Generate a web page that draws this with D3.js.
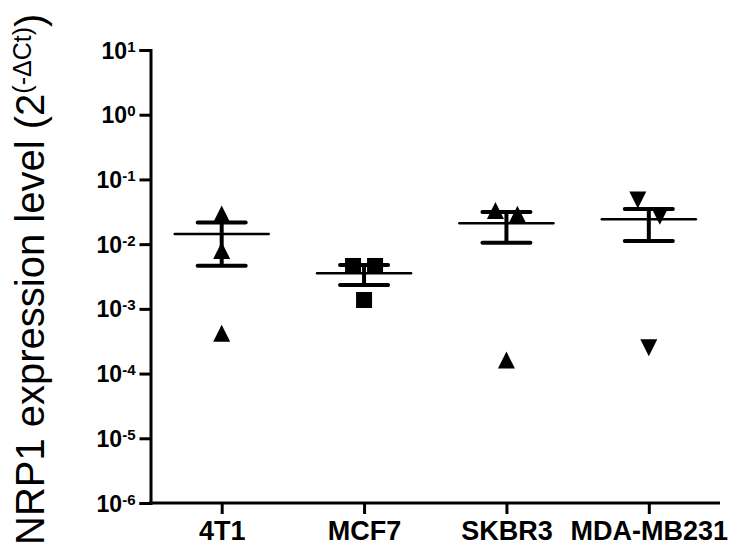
<!DOCTYPE html>
<html>
<head>
<meta charset="utf-8">
<script src="https://cdn.jsdelivr.net/npm/d3@7"></script>
<style>
  body { margin: 0; background: #fff; }
  svg { display: block; }
  text { font-family: "Liberation Sans", Arial, sans-serif; fill: #000; }
</style>
</head>
<body>
<div id="chart"></div>
<script>
// cell lines and their marker shapes
const categories = ["4T1", "MCF7", "SKBR3", "MDA-MB231"];
const shapes = ["up", "square", "up", "down"];

// individual NRP1 expression values (2^-dCt)
const values4T1 = [0.0292, 0.0080, 0.00042];
const valuesMCF7 = [0.0046, 0.0046, 0.00137];
const valuesSKBR3 = [0.033, 0.029, 0.000162];
const valuesMDA = [0.048, 0.027, 0.00025];

// mean and SEM bar ends
const means = [0.0143, 0.00354, 0.0210, 0.0242];
const semLow = [0.00464, 0.00233, 0.0105, 0.0112];
const semHigh = [0.0216, 0.00475, 0.0314, 0.0349];

const yTicks = [-6, -5, -4, -3, -2, -1, 0, 1];

const groups = [values4T1, valuesMCF7, valuesSKBR3, valuesMDA];

const width = 741, height = 546;
const margin = { left: 150.5, right: 21, top: 50, bottom: 43 };

const svg = d3.select("#chart")
  .append("svg")
  .attr("width", width)
  .attr("height", height);

const x = d3.scalePoint()
  .domain(categories)
  .range([margin.left, width - margin.right])
  .padding(0.5);

const y = d3.scaleLog()
  .domain([1e-6, 10])
  .range([height - margin.bottom, margin.top]);

// y axis
const yAxis = svg.append("g")
  .attr("transform", `translate(${margin.left},0)`)
  .call(d3.axisLeft(y)
    .tickValues(yTicks.map(e => Math.pow(10, e)))
    .tickSize(11)
    .tickFormat(""));
yAxis.selectAll("path, line").attr("stroke", "#000").attr("stroke-width", 3);
yAxis.selectAll(".tick").each(function (d) {
  const t = d3.select(this).append("text")
    .attr("x", -15)
    .attr("dy", 8)
    .attr("text-anchor", "end")
    .style("font-size", "23px")
    .style("font-weight", "bold");
  t.append("tspan").text("10");
  t.append("tspan")
    .attr("dy", -7)
    .style("font-size", "15px")
    .text(Math.round(Math.log10(d)));
});

// x axis
const xAxis = svg.append("g")
  .attr("transform", `translate(0,${height - margin.bottom})`)
  .call(d3.axisBottom(x).tickSize(11).tickSizeOuter(0));
xAxis.select(".domain").attr("stroke", "#000").attr("stroke-width", 3)
  .attr("d", `M${margin.left - 1.5},0H${width - margin.right}`);
xAxis.selectAll("line").attr("stroke", "#000").attr("stroke-width", 3);
xAxis.selectAll("text")
  .attr("y", 37)
  .attr("dy", 0)
  .style("font-size", "27px")
  .style("font-weight", "bold")
  .style("fill", "#000");

// y axis title
const title = svg.append("text")
  .attr("transform", "translate(44,545) rotate(-90)")
  .style("font-size", "40px");
title.append("tspan").text("NRP1 expression level (2");
title.append("tspan").attr("dy", -13).style("font-size", "25px").text("(-ΔCt)");
title.append("tspan").attr("dy", 13).text(")");

// marker paths centred on their bounding box
const markerPath = (shape) => {
  const h = 8.5;
  if (shape === "square") return `M${-8},${-8}h16v16h-16Z`;
  if (shape === "down") return `M${-h},${-h}L${h},${-h}L0,${h}Z`;
  return `M0,${-h}L${h},${h}L${-h},${h}Z`;
};

// spread points that would overlap
const layoutPoints = (vals) => {
  const pts = vals.map(v => ({ v, py: y(v), dx: 0 }));
  const sorted = pts.slice().sort((a, b) => a.py - b.py);
  for (let i = 1; i < sorted.length; i++) {
    if (Math.abs(sorted[i].py - sorted[i - 1].py) < 18 && sorted[i - 1].dx === 0) {
      sorted[i - 1].dx = -11;
      sorted[i].dx = 11;
    }
  }
  return pts;
};

const plot = svg.append("g");

groups.forEach((vals, i) => {
  const cx = x(categories[i]);
  const g = plot.append("g");
  g.selectAll("path.pt")
    .data(layoutPoints(vals))
    .enter()
    .append("path")
    .attr("class", "pt")
    .attr("d", markerPath(shapes[i]))
    .attr("transform", d => `translate(${cx + d.dx},${d.py})`)
    .attr("fill", "#000");

  // SEM stem and caps
  g.append("line")
    .attr("x1", cx).attr("x2", cx)
    .attr("y1", y(semLow[i])).attr("y2", y(semHigh[i]))
    .attr("stroke", "#000").attr("stroke-width", 4);
  [semLow[i], semHigh[i]].forEach(v => {
    g.append("line")
      .attr("x1", cx - 24).attr("x2", cx + 24)
      .attr("y1", y(v)).attr("y2", y(v))
      .attr("stroke", "#000").attr("stroke-width", 4)
      .attr("stroke-linecap", "round");
  });
  // mean line
  g.append("line")
    .attr("x1", cx - 47).attr("x2", cx + 47)
    .attr("y1", y(means[i])).attr("y2", y(means[i]))
    .attr("stroke", "#000").attr("stroke-width", 2.5)
    .attr("stroke-linecap", "round");
});
</script>
</body>
</html>
